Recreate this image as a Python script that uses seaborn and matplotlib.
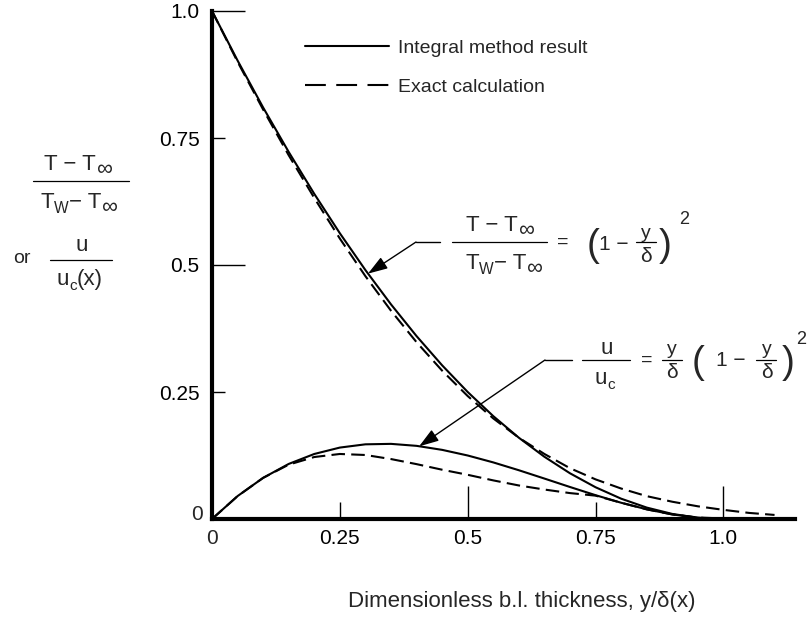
import matplotlib
matplotlib.use("Agg")
import matplotlib.pyplot as plt
from matplotlib.lines import Line2D
import seaborn as sns

# ---------------- data ----------------
eta_integral = [0.0, 0.05, 0.10, 0.15, 0.20, 0.25, 0.30, 0.35, 0.40, 0.45, 0.50,
                0.55, 0.60, 0.65, 0.70, 0.75, 0.80, 0.85, 0.90, 0.95, 1.00]
T_integral = [1.0, 0.9025, 0.81, 0.7225, 0.64, 0.5625, 0.49, 0.4225, 0.36, 0.3025, 0.25,
              0.2025, 0.16, 0.1225, 0.09, 0.0625, 0.04, 0.0225, 0.01, 0.0025, 0.0]
u_integral = [0.0, 0.0451, 0.081, 0.1084, 0.128, 0.1406, 0.147, 0.1479, 0.144, 0.1361, 0.125,
              0.1114, 0.096, 0.0796, 0.063, 0.0469, 0.032, 0.0191, 0.009, 0.0024, 0.0]

eta_exact_T = [0.0, 0.05, 0.10, 0.15, 0.20, 0.25, 0.30, 0.35, 0.40, 0.45, 0.50,
               0.55, 0.60, 0.65, 0.70, 0.75, 0.80, 0.85, 0.90, 0.95, 1.00, 1.05, 1.10]
T_exact = [1.0, 0.90, 0.806, 0.716, 0.632, 0.552, 0.478, 0.41, 0.348, 0.292, 0.242,
           0.198, 0.16, 0.128, 0.10, 0.078, 0.06, 0.045, 0.034, 0.025, 0.018, 0.012, 0.008]

eta_exact_u = [0.0, 0.05, 0.10, 0.15, 0.20, 0.25, 0.30, 0.35, 0.40, 0.45, 0.50,
               0.55, 0.60, 0.65, 0.70, 0.75, 0.80, 0.85, 0.90, 0.95, 1.00]
u_exact = [0.0, 0.045, 0.081, 0.107, 0.122, 0.128, 0.126, 0.118, 0.108, 0.097, 0.087,
           0.076, 0.066, 0.058, 0.051, 0.046, 0.032, 0.019, 0.009, 0.003, 0.001]

x_ticks_major = [0.5, 1.0]
x_ticks_minor = [0.25, 0.75]
x_labels_major = ["0.5", "1.0"]
x_labels_minor = ["0.25", "0.75"]
y_ticks_major = [0.5, 1.0]
y_ticks_minor = [0.25, 0.75]
y_labels_major = ["0.5", "1.0"]
y_labels_minor = ["0.25", "0.75"]
legend_labels = ["Integral method result", "Exact calculation"]

# ---------------- style ----------------
sns.set_style("white")
plt.rcParams["font.family"] = ["Liberation Sans", "DejaVu Sans"]

W, H = 808, 625
fig = plt.figure(figsize=(W / 100, H / 100), dpi=100)
ax = fig.add_axes([212 / W, 1 - 519 / H, (795 - 212) / W, (519 - 11) / H])
renderer = fig.canvas.get_renderer()


def P(x, y):
    return (x / W, 1 - y / H)


DASH = (0, (6.5, 3.0))
LW = 1.5

sns.lineplot(x=eta_integral, y=T_integral, ax=ax, color="black", lw=LW,
             estimator=None, sort=False, clip_on=False)
sns.lineplot(x=eta_integral, y=u_integral, ax=ax, color="black", lw=LW,
             estimator=None, sort=False, clip_on=False)
sns.lineplot(x=eta_exact_T, y=T_exact, ax=ax, color="black", lw=LW, linestyle=DASH,
             estimator=None, sort=False, clip_on=False)
sns.lineplot(x=eta_exact_u, y=u_exact, ax=ax, color="black", lw=LW, linestyle=DASH,
             estimator=None, sort=False, clip_on=False)

ax.set_xlim(0, 1.14)
ax.set_ylim(0, 1.0)
for s in ["top", "right"]:
    ax.spines[s].set_visible(False)
for s in ["left", "bottom"]:
    ax.spines[s].set_linewidth(3.0)
    ax.spines[s].set_color("black")

ax.set_xticks(x_ticks_major)
ax.set_xticklabels(x_labels_major)
ax.set_xticks(x_ticks_minor, minor=True)
ax.set_xticklabels(x_labels_minor, minor=True)
ax.set_yticks(y_ticks_major)
ax.set_yticklabels(y_labels_major)
ax.set_yticks(y_ticks_minor, minor=True)
ax.set_yticklabels(y_labels_minor, minor=True)

ax.tick_params(axis="both", which="both", bottom=True, left=True, top=False, right=False,
               direction="in", width=1.0, labelsize=15, colors="black")
ax.tick_params(axis="x", which="major", length=24, pad=7)
ax.tick_params(axis="x", which="minor", length=12, pad=7)
ax.tick_params(axis="y", which="major", length=24, pad=9)
ax.tick_params(axis="y", which="minor", length=9, pad=9)
ax.set_xlabel("")
ax.set_ylabel("")

# zero labels
fig.text(*P(212, 538), "0", ha="center", va="center", fontsize=15)
fig.text(*P(203, 515), "0", ha="right", va="center", fontsize=15)

# ---------------- legend ----------------
handles = [Line2D([], [], color="black", lw=LW),
           Line2D([], [], color="black", lw=LW, linestyle=(0, (10, 5)))]
fig.legend(handles, legend_labels, loc="upper left", bbox_to_anchor=P(305, 39),
           frameon=False, fontsize=14, handlelength=4.3, handletextpad=0.5,
           labelspacing=1.1, borderpad=0, borderaxespad=0)


def bar(x0, x1, y, lw=0.9):
    fig.add_artist(Line2D([x0 / W, x1 / W], [1 - y / H, 1 - y / H],
                          transform=fig.transFigure, color="black", lw=lw))


def txt(x, y, s, fs=15, ha="center", va="center"):
    fig.text(*P(x, y), s, ha=ha, va=va, fontsize=fs)


def compose(xc, ybase, pieces):
    """pieces: list of (string, fontsize, dy_pixels); centred at xc, baseline ybase."""
    arts = []
    widths = []
    for s, fs, dy in pieces:
        t = fig.text(0, 0, s, fontsize=fs, ha="left", va="baseline")
        w = t.get_window_extent(renderer).width
        arts.append((t, dy))
        widths.append(w)
    total = sum(widths)
    x = xc - total / 2
    for (t, dy), w in zip(arts, widths):
        t.set_position(P(x, ybase + dy))
        x += w


def t_minus_tinf(xc, yb, fs=16):
    compose(xc, yb, [("T − T", fs, 0), ("∞", fs, 5)])


def tw_minus_tinf(xc, yb, fs=16):
    compose(xc, yb, [("T", fs, 0), ("W", fs * 0.7, 5), ("− T", fs, 0), ("∞", fs, 5)])


# ---------------- left axis label ----------------
t_minus_tinf(78, 170)
bar(33, 129, 181)
tw_minus_tinf(79, 208)
txt(22, 258, "or", 14)
compose(82, 251, [("u", 16, 0)])
bar(50, 112, 260)
compose(80, 285, [("u", 16, 0), ("c", 11, 5)  , ("(x)", 16, 0)])

# ---------------- x label ----------------
txt(522, 601, "Dimensionless b.l. thickness, y/δ(x)", 16)

# ---------------- annotation 1 ----------------
A1 = 242
t_minus_tinf(500, A1 - 11)
bar(452, 547, A1)
tw_minus_tinf(504, A1 + 27)
txt(563, A1, "=", 14)
txt(593, A1 + 4, "(", 28)
txt(614, A1 + 2, "1 −", 15)
txt(646, A1 - 9, "y", 14)
bar(636, 656, A1)
txt(646, A1 + 14, "δ", 15)
txt(665, A1 + 4, ")", 28)
txt(684, A1 - 22, "2", 13)
bar(416, 440, A1, lw=1.0)
ax.annotate("", xy=(0.305, 0.483), xycoords="data",
            xytext=P(416, A1), textcoords="figure fraction",
            arrowprops=dict(arrowstyle="-|>,head_length=0.6,head_width=0.2",
                            color="black", lw=1.0, mutation_scale=20,
                            shrinkA=0, shrinkB=0))

# ---------------- annotation 2 ----------------
compose(607, 354, [("u", 16, 0)])
bar(582, 630, 360)
compose(605, 384, [("u", 16, 0), ("c", 11, 5)])
txt(647, 360, "=", 14)
txt(672, 349, "y", 14)
bar(662, 682, 360)
txt(672, 373, "δ", 15)
txt(698, 363, "(", 28)
txt(731, 361, "1 −", 15)
txt(767, 349, "y", 14)
bar(756, 776, 360)
txt(767, 373, "δ", 15)
txt(788, 363, ")", 28)
txt(801, 339, "2", 13)
bar(545, 572, 360, lw=1.0)
ax.annotate("", xy=(0.405, 0.143), xycoords="data",
            xytext=P(545, 360), textcoords="figure fraction",
            arrowprops=dict(arrowstyle="-|>,head_length=0.6,head_width=0.2",
                            color="black", lw=1.0, mutation_scale=20,
                            shrinkA=0, shrinkB=0))

fig.savefig("out.png", dpi=100)
